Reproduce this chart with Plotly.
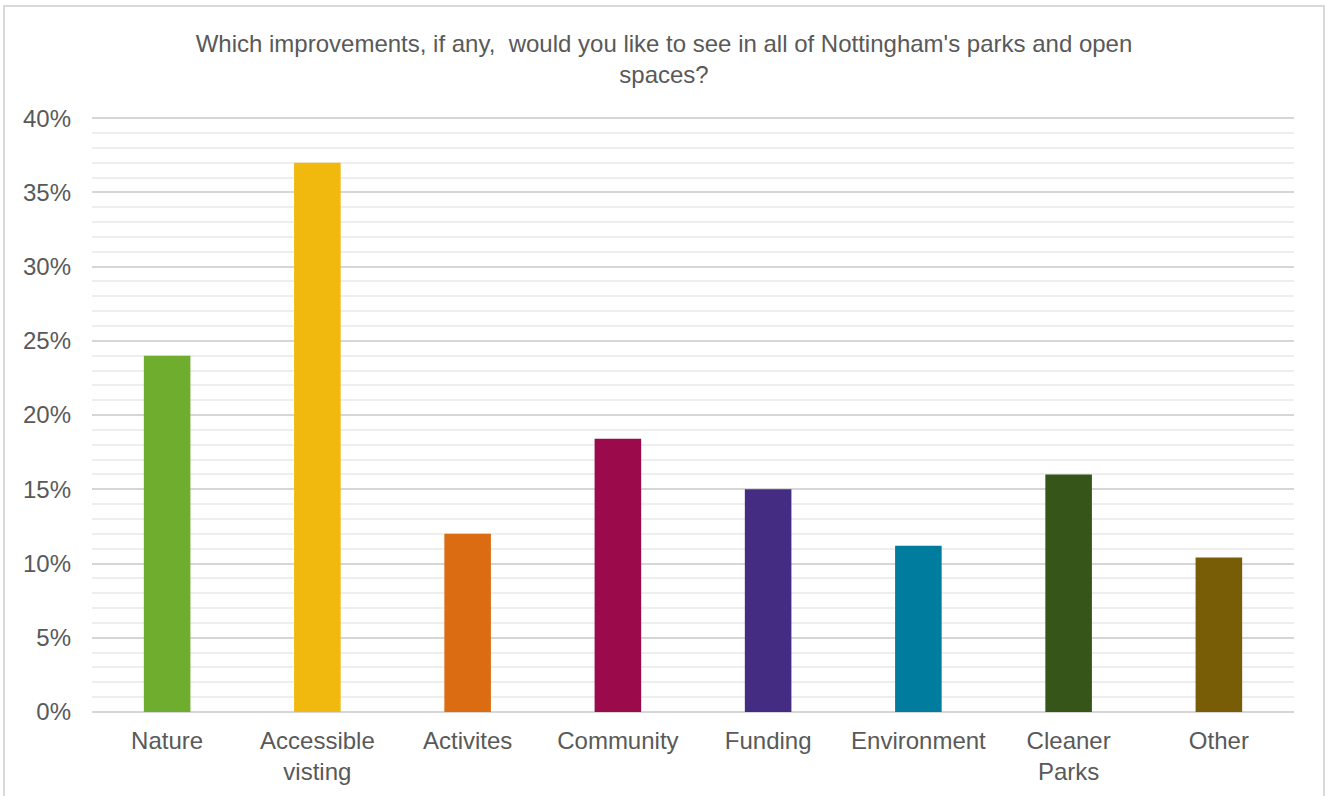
import plotly.graph_objects as go

# Survey responses: share of respondents choosing each improvement (%)
categories = ["Nature", "Accessible<br>visting", "Activites", "Community",
              "Funding", "Environment", "Cleaner<br>Parks", "Other"]
shares = [24.0, 37.0, 12.0, 18.4, 15.0, 11.2, 16.0, 10.4]
bar_colors = ["#6FAD2F", "#F1B90D", "#DB6C11", "#9B0A4A",
              "#432C82", "#007C9E", "#355519", "#785C06"]
y_ticks = [0, 5, 10, 15, 20, 25, 30, 35, 40]
y_tick_labels = [f"{v}%" for v in y_ticks]

title_text = ("Which improvements, if any,  would you like to see in all of "
              "Nottingham's parks and open<br>spaces?")

W, H = 1328, 796
L, R, T, B = 92, 34, 117, 84

fig = go.Figure(
    go.Bar(
        x=categories,
        y=shares,
        marker=dict(color=bar_colors, line=dict(width=0)),
        width=0.31,
    )
)

font_family = "Liberation Sans, Arial, sans-serif"
text_color = "#595959"

fig.update_layout(
    width=W,
    height=H,
    margin=dict(l=L, r=R, t=T, b=B),
    paper_bgcolor="white",
    plot_bgcolor="white",
    showlegend=False,
    font=dict(family=font_family, color=text_color, size=24),
    title=dict(
        text=title_text,
        x=0.5,
        xanchor="center",
        xref="container",
        y=1 - 52 / H,
        yanchor="middle",
        yref="container",
        font=dict(size=24, color=text_color, family=font_family),
    ),
    xaxis=dict(
        showgrid=False,
        showline=False,
        zeroline=False,
        ticks="",
        ticklabelstandoff=12,
        tickfont=dict(size=24, color=text_color),
    ),
    yaxis=dict(
        range=[0, 40.08],
        tickmode="array",
        tickvals=y_ticks,
        ticktext=y_tick_labels,
        showgrid=True,
        gridcolor="#D6D6D6",
        gridwidth=2,
        zeroline=True,
        zerolinecolor="#D6D6D6",
        zerolinewidth=2,
        showline=False,
        ticks="",
        ticklabelstandoff=20,
        tickfont=dict(size=24, color=text_color),
        minor=dict(dtick=1, showgrid=True, gridcolor="#EEEEEE", gridwidth=1.5),
    ),
)

# Light outer frame around the whole chart
pw, ph = W - L - R, H - T - B
fig.add_shape(
    type="rect",
    xref="paper", yref="paper",
    x0=(4 - L) / pw, x1=(1324 - L) / pw,
    y0=(H - B - 800) / ph, y1=(H - B - 6) / ph,
    line=dict(color="#D9D9D9", width=2),
    fillcolor="rgba(0,0,0,0)",
    layer="below",
)

fig.write_html("out.html")
